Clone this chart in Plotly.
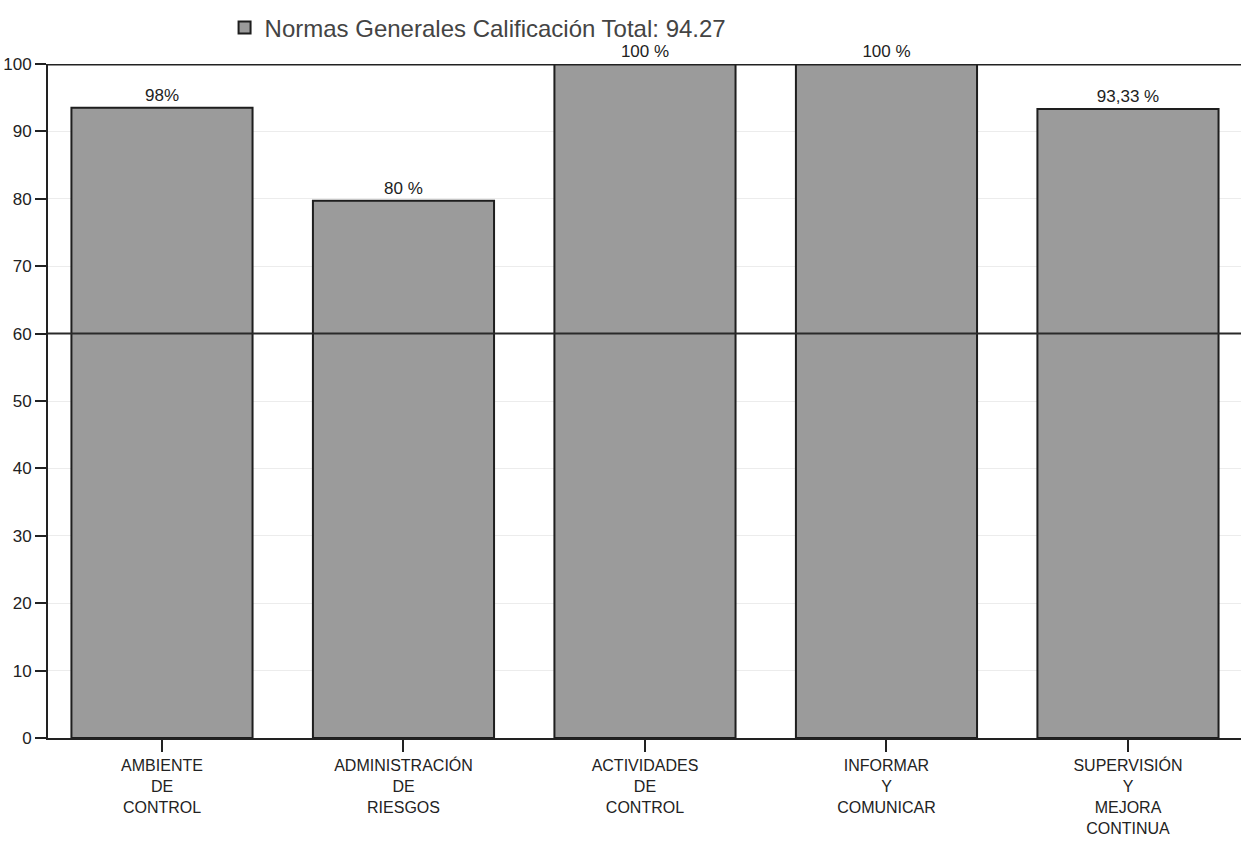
import plotly.graph_objects as go

categories = [
    "AMBIENTE<br>DE<br>CONTROL",
    "ADMINISTRACIÓN<br>DE<br>RIESGOS",
    "ACTIVIDADES<br>DE<br>CONTROL",
    "INFORMAR<br>Y<br>COMUNICAR",
    "SUPERVISIÓN<br>Y<br>MEJORA<br>CONTINUA",
]
values = [93.5, 79.7, 100, 100, 93.33]
value_labels = ["98%", "80 %", "100 %", "100 %", "93,33 %"]
y_ticks = [0, 10, 20, 30, 40, 50, 60, 70, 80, 90, 100]
threshold = 60
series_name = "Normas Generales Calificación Total: 94.27"

fig = go.Figure()
fig.add_trace(go.Bar(
    x=categories,
    y=values,
    name=series_name,
    text=value_labels,
    textposition="outside",
    textfont=dict(family="Liberation Sans, Arial", size=17, color="#222"),
    cliponaxis=False,
    marker=dict(color="#9b9b9b", line=dict(color="#1e1e1e", width=2)),
    width=0.75,
    showlegend=True,
))

fig.add_shape(type="line", xref="paper", x0=0, x1=1, yref="y", y0=threshold, y1=threshold,
              line=dict(color="#2a2a2a", width=2))

fig.update_layout(
    width=1241, height=867,
    margin=dict(l=48, r=0, t=64, b=129, autoexpand=False),
    paper_bgcolor="white",
    plot_bgcolor="white",
    font=dict(family="Liberation Sans, Arial", color="#222"),
    showlegend=True,
    legend=dict(x=0.148, y=1.02, xanchor="left", yanchor="bottom", xref="paper", yref="paper",
                orientation="h", font=dict(size=24, color="#444"), bgcolor="rgba(0,0,0,0)"),
    bargap=0.25,
)
fig.update_yaxes(
    range=[0, 100], tickvals=y_ticks, ticktext=[str(v) for v in y_ticks],
    ticks="outside", ticklen=11, tickwidth=1.5, tickcolor="#222",
    showline=True, linecolor="#222", linewidth=2, mirror=False,
    showgrid=True, gridcolor="#ececec", gridwidth=1, automargin=False,
    tickfont=dict(size=17, color="#222"), zeroline=False,
)
fig.update_xaxes(
    range=[-0.472, 4.468], automargin=False,
    ticks="outside", ticklen=12, tickwidth=1.5, tickcolor="#222",
    showline=True, linecolor="#222", linewidth=2,
    tickfont=dict(size=16, color="#222"), tickangle=0,
)
fig.add_shape(type="line", xref="paper", x0=0, x1=1, yref="y", y0=100, y1=100,
              line=dict(color="#222", width=3))

fig.write_html("out.html", config={"displayModeBar": False},
               post_script="document.body.style.margin='0';")
